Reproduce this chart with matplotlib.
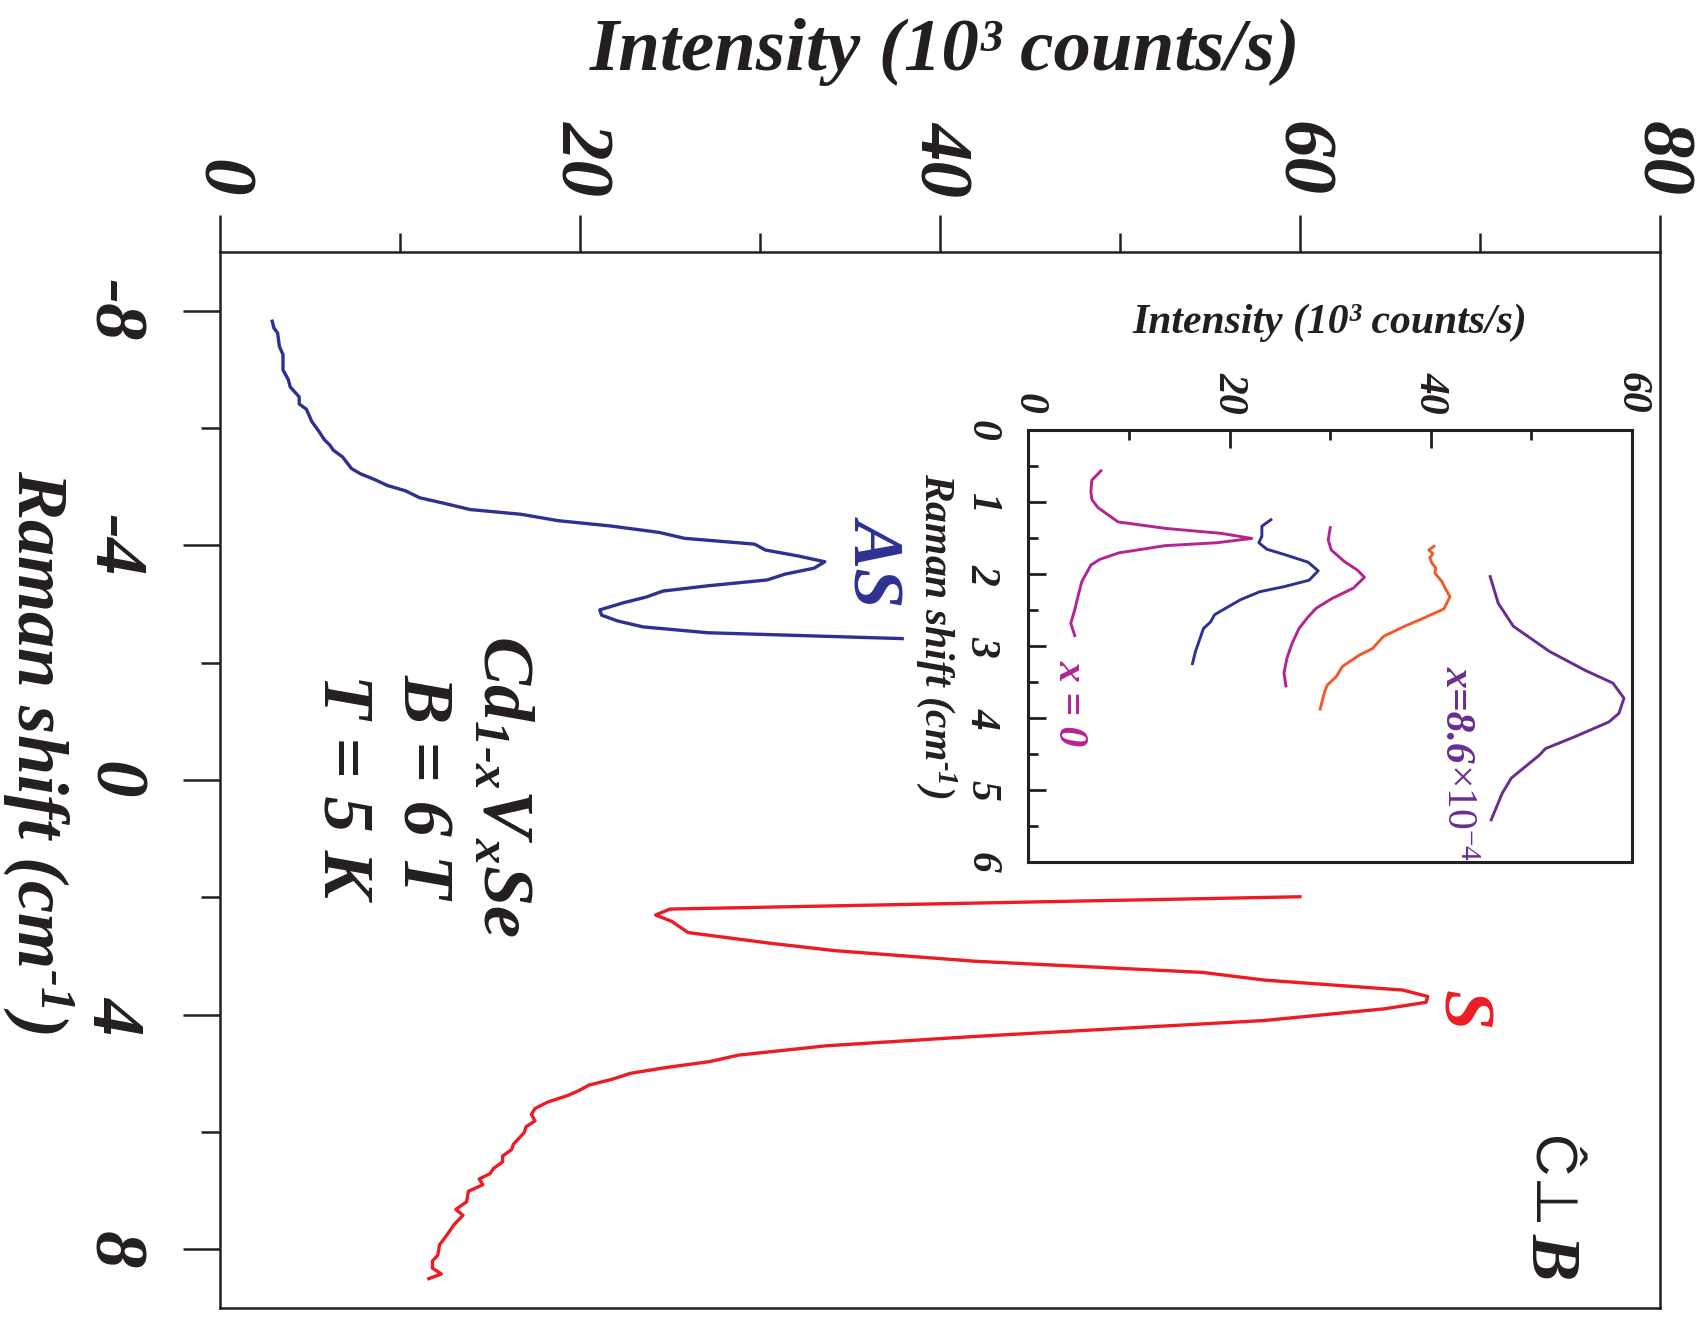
import numpy as np
import matplotlib
matplotlib.use('Agg')
import matplotlib.pyplot as plt

plt.rcParams['font.family'] = 'Liberation Serif'
plt.rcParams['font.weight'] = 'bold'
plt.rcParams['font.style'] = 'italic'
plt.rcParams['mathtext.fontset'] = 'custom'
plt.rcParams['mathtext.rm'] = 'Liberation Serif:bold:italic'
plt.rcParams['mathtext.it'] = 'Liberation Serif:bold:italic'
plt.rcParams['mathtext.bf'] = 'Liberation Serif:bold:italic'
plt.rcParams['mathtext.default'] = 'regular'

# -------------------------------
# Main panel: anti-Stokes (AS) and Stokes (S) spin-flip lines
# -------------------------------
as_shift = [-7.82, -7.70, -7.62, -7.39, -7.25, -6.99, -6.82, -6.70, -6.53, -6.41,
            -6.32, -6.11, -5.94, -5.80, -5.71, -5.62, -5.51, -5.31, -5.22, -5.12,
            -5.02, -4.93, -4.81, -4.72, -4.61, -4.53, -4.42, -4.33, -4.22, -4.12,
            -4.02, -3.92, -3.82, -3.72, -3.61, -3.51, -3.41, -3.31, -3.22, -3.12,
            -3.02, -2.90, -2.81, -2.71, -2.61, -2.51, -2.41]
as_int = [2.9, 3.0, 3.2, 3.3, 3.5, 3.5, 3.8, 3.9, 4.4, 4.4,
          4.8, 5.1, 5.5, 5.8, 6.1, 6.3, 6.8, 7.3, 7.8, 8.6,
          9.3, 10.3, 11.1, 12.4, 13.9, 16.7, 18.8, 21.7, 24.4, 25.8,
          29.7, 30.3, 32.1, 33.6, 33.0, 31.4, 30.4, 27.1, 24.6, 23.7,
          22.4, 21.1, 21.2, 22.1, 23.5, 27.1, 37.9]

s_shift = [1.99, 2.20, 2.30, 2.41, 2.60, 2.78, 2.91, 3.09, 3.28, 3.41,
           3.58, 3.69, 3.79, 3.90, 4.10, 4.37, 4.53, 4.69, 4.80, 4.90,
           5.00, 5.10, 5.20, 5.30, 5.38, 5.49, 5.60, 5.70, 5.81, 5.91,
           6.01, 6.21, 6.30, 6.41, 6.51, 6.62, 6.71, 6.80, 6.90, 7.01,
           7.19, 7.32, 7.42, 7.58, 7.76, 7.92, 8.10, 8.20, 8.32, 8.42, 8.50]
s_int = [60.0, 25.0, 24.2, 25.1, 26.0, 30.5, 34.2, 42.0, 54.6, 58.0,
         65.7, 67.1, 67.0, 64.7, 58.0, 42.0, 33.7, 28.8, 27.2, 24.8,
         22.8, 21.8, 20.5, 19.9, 19.3, 18.2, 17.5, 17.3, 17.5, 17.0,
         16.9, 16.3, 16.2, 15.7, 15.7, 15.2, 15.0, 14.4, 14.6, 13.8,
         13.7, 13.1, 13.5, 13.0, 12.6, 12.2, 12.1, 11.8, 11.8, 12.3, 11.6]

main_int_ticks = [0, 20, 40, 60, 80]
main_int_minor = [10, 30, 50, 70]
main_shift_ticks = [-8, -4, 0, 4, 8]
main_shift_minor = [-6, -2, 2, 6]
main_shift_labels = ['-8', '-4', '0', '4', '8']

# -------------------------------
# Inset: Stokes line for several V concentrations
# -------------------------------
x0_shift = [0.56, 0.69, 0.85, 0.96, 1.07, 1.15, 1.27, 1.36, 1.43, 1.50,
            1.56, 1.60, 1.70, 1.79, 1.87, 2.10, 2.26, 2.49, 2.68, 2.85]
x0_int = [7.2, 6.3, 6.2, 6.3, 6.9, 7.7, 8.9, 13.6, 19.2, 22.2,
          18.7, 13.6, 9.0, 7.1, 6.2, 5.3, 5.0, 4.6, 4.2, 4.6]

xb_shift = [1.24, 1.33, 1.47, 1.56, 1.65, 1.73, 1.83, 1.95, 2.08, 2.17,
            2.24, 2.35, 2.47, 2.56, 2.66, 2.75, 2.91, 3.07, 3.24]
xb_int = [24.1, 23.2, 23.2, 22.9, 23.7, 25.6, 27.8, 28.8, 27.9, 25.4,
          23.0, 21.1, 19.6, 18.5, 18.1, 17.4, 17.0, 16.6, 16.3]

xc_shift = [1.35, 1.52, 1.66, 1.82, 1.94, 2.04, 2.19, 2.34, 2.47, 2.59,
            2.75, 2.96, 3.16, 3.37, 3.55]
xc_int = [30.0, 29.8, 30.1, 31.4, 32.7, 33.4, 32.3, 30.1, 28.6, 27.8,
          26.9, 26.2, 25.7, 25.4, 25.6]

xd_shift = [1.61, 1.66, 1.71, 1.77, 1.84, 1.91, 1.98, 2.10, 2.21, 2.31,
            2.48, 2.63, 2.72, 2.86, 3.03, 3.12, 3.28, 3.42, 3.54, 3.65, 3.87]
xd_int = [40.3, 39.8, 40.2, 39.9, 40.1, 40.5, 40.4, 41.1, 41.5, 41.9,
          41.3, 38.9, 37.4, 35.3, 34.2, 32.9, 31.2, 30.6, 29.7, 29.4, 29.0]

xe_shift = [2.03, 2.40, 2.72, 3.07, 3.33, 3.51, 3.72, 3.93, 4.05, 4.25,
            4.42, 4.51, 4.83, 5.04, 5.41]
xe_int = [45.9, 46.7, 48.2, 51.8, 55.3, 58.1, 59.2, 58.7, 57.7, 54.4,
          51.4, 50.8, 48.0, 47.1, 46.0]

inset_int_ticks = [0, 20, 40, 60]
inset_int_minor = [10, 30, 50]
inset_shift_ticks = [0, 1, 2, 3, 4, 5, 6]
inset_shift_minor = [0.5, 1.5, 2.5, 3.5, 4.5, 5.5]

BLUE = '#2e3192'
RED = '#ed1c24'
MAGENTA = '#b5258f'
ORANGE = '#f15a29'
PURPLE = '#692d91'
INK = '#231f20'

W, H = 1699, 1321
fig = plt.figure(figsize=(W / 100, H / 100), dpi=100)


def fx(X):
    return X / W


def fy(Y):
    return 1 - Y / H


# -------------------------------
# Main axes
# -------------------------------
ax = fig.add_axes([fx(220), fy(1308), (1660 - 220) / W, (1308 - 252) / H])
ax.plot(as_int, as_shift, color=BLUE, lw=2.4)
ax.plot(s_int, s_shift, color=RED, lw=2.4)
ax.set_xlim(0, 80)
ax.set_ylim(9, -9)
for sp in ax.spines.values():
    sp.set_linewidth(1.8)
    sp.set_color(INK)

ax.xaxis.tick_top()
ax.set_xticks(main_int_ticks)
ax.set_xticks(main_int_minor, minor=True)
ax.set_yticks(main_shift_ticks)
ax.set_yticks(main_shift_minor, minor=True)
ax.tick_params(axis='x', which='both', direction='out', top=True, bottom=False,
               width=1.8, color=INK)
ax.tick_params(axis='y', which='both', direction='out', left=True, right=False,
               width=1.8, color=INK)
ax.tick_params(which='major', length=27)
ax.tick_params(which='minor', length=13.5)
ax.tick_params(axis='x', which='major', pad=13)
ax.tick_params(axis='y', which='major', pad=26)
ax.set_xticklabels([str(v) for v in main_int_ticks], rotation=270,
                   ha='center', va='bottom', fontsize=54, color=INK)
ax.set_yticklabels(main_shift_labels, rotation=270,
                   ha='right', va='center', fontsize=54, color=INK)

ax.text(36.4, -3.74, 'AS', color=BLUE, fontsize=52,
        rotation=270, ha='center', va='center')
ax.text(68.9, 3.93, 'S', color=RED, fontsize=52,
        rotation=270, ha='center', va='center')
ax.text(11.2, 0.1, 'Cd$_{1\\text{-}x}$V$_x$Se\nB = 6 T\nT = 5 K',
        color=INK, fontsize=52, rotation=270, ha='center', va='center',
        multialignment='center', linespacing=1.3)
ax.text(72.9, 7.66, 'Ĉ⊥', family=['Liberation Sans', 'DejaVu Sans'],
        fontweight='normal', fontstyle='normal', fontsize=42, color=INK,
        rotation=270, rotation_mode='anchor', ha='right', va='baseline')
ax.text(72.9, 7.72, 'B', fontsize=50, color=INK,
        rotation=270, rotation_mode='anchor', ha='left', va='baseline')

fig.text(fx(945), fy(70), 'Intensity (10³ counts/s)', fontsize=54,
         ha='center', va='baseline', color=INK)
fig.text(fx(18), fy(752), 'Raman shift (cm$^{\\text{-}1}$)', fontsize=52,
         rotation=270, rotation_mode='anchor', ha='center', va='baseline',
         color=INK)

# -------------------------------
# Inset
# -------------------------------
ins = fig.add_axes([fx(1028.5), fy(862.3), (1632 - 1028.5) / W, (862.3 - 430.5) / H])
ins.plot(x0_int, x0_shift, color=MAGENTA, lw=2.1)
ins.plot(xb_int, xb_shift, color=BLUE, lw=2.1)
ins.plot(xc_int, xc_shift, color=MAGENTA, lw=2.1)
ins.plot(xd_int, xd_shift, color=ORANGE, lw=2.1)
ins.plot(xe_int, xe_shift, color=PURPLE, lw=2.1)
ins.set_xlim(0, 60)
ins.set_ylim(6, 0)
for sp in ins.spines.values():
    sp.set_linewidth(2.2)
    sp.set_color(INK)
ins.xaxis.tick_top()
ins.set_xticks(inset_int_ticks)
ins.set_xticks(inset_int_minor, minor=True)
ins.set_yticks(inset_shift_ticks)
ins.set_yticks(inset_shift_minor, minor=True)
ins.tick_params(axis='x', which='both', direction='in', top=True, bottom=False,
                width=2.0, color=INK)
ins.tick_params(axis='y', which='both', direction='in', left=True, right=False,
                width=2.0, color=INK)
ins.tick_params(which='major', length=13)
ins.tick_params(which='minor', length=7)
ins.tick_params(axis='x', which='major', pad=12)
ins.tick_params(axis='y', which='major', pad=20)
ins.set_xticklabels([str(v) for v in inset_int_ticks], rotation=270,
                    ha='center', va='bottom', fontsize=30, color=INK)
ins.set_yticklabels([str(v) for v in inset_shift_ticks], rotation=270,
                    ha='right', va='center', fontsize=30, color=INK)

ins.text(4.1, 3.79, 'x = 0', color=MAGENTA, fontsize=30,
         rotation=270, ha='center', va='center')
ins.text(41.6, 4.62, 'x=8.6', color=PURPLE, fontsize=30,
         rotation=270, rotation_mode='anchor', ha='right', va='baseline')
ins.text(41.6, 4.62, '×10$^{-4}$', color=PURPLE, fontsize=30,
         fontweight='normal', fontstyle='normal',
         rotation=270, rotation_mode='anchor', ha='left', va='baseline')

fig.text(fx(1330), fy(333), 'Intensity (10³ counts/s)', fontsize=30,
         ha='center', va='baseline', color=INK)
fig.text(fx(925), fy(636), 'Raman shift (cm$^{\\text{-}1}$)', fontsize=30,
         rotation=270, rotation_mode='anchor', ha='center', va='baseline',
         color=INK)

fig.savefig('out.png', dpi=100)
